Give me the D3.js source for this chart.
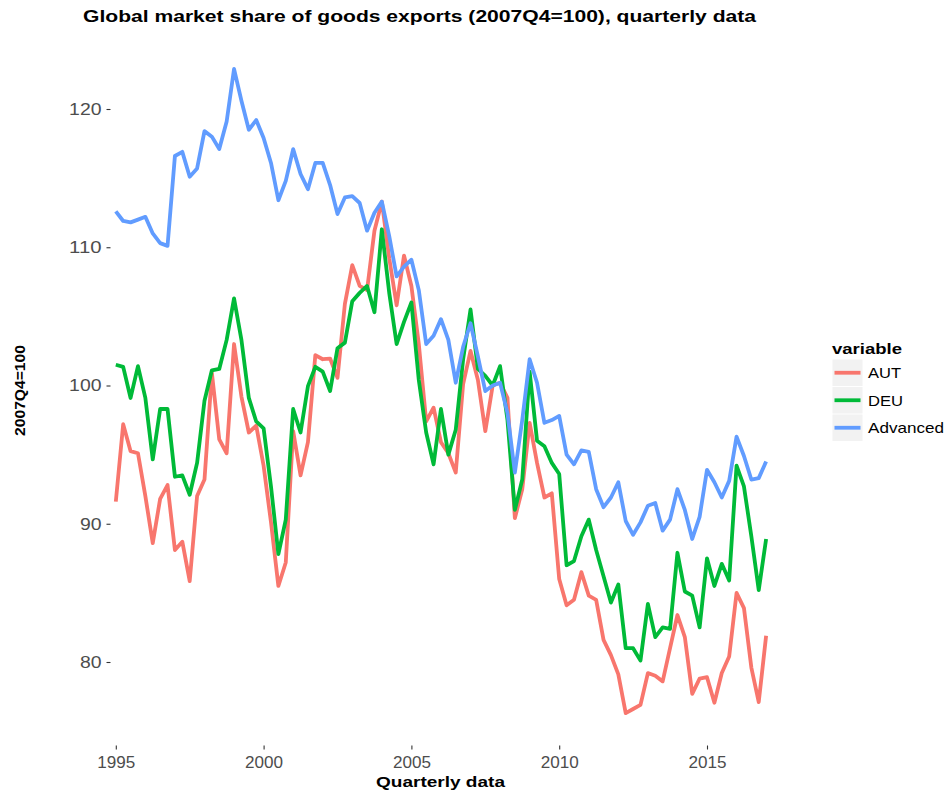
<!DOCTYPE html>
<html>
<head>
<meta charset="utf-8">
<script src="https://cdnjs.cloudflare.com/ajax/libs/d3/7.8.5/d3.min.js"></script>
<style>
  html, body { margin: 0; padding: 0; background: #fff; }
  svg { display: block; font-family: "Liberation Sans", Arial, sans-serif; }
</style>
</head>
<body>
<svg id="chart" width="944" height="794"></svg>
<script>
// ---------- data ----------
const startYear = 1995;
const seriesNames = ["AUT", "DEU", "Advanced"];
const seriesColors = ["#F8766D", "#00BA38", "#619CFF"];

const AUT = [91.6, 97.2, 95.25, 95.1, 92.0, 88.6, 91.8, 92.8, 88.1, 88.7, 85.85, 92.0, 93.2, 100.9, 96.1, 95.1,
  103.0, 99.2, 96.6, 97.1, 94.2, 90.1, 85.5, 87.2, 96.7, 93.5, 95.9, 102.2, 101.9, 101.95, 100.55, 105.9,
  108.7, 107.2, 106.9, 111.2, 113.3, 109.2, 105.8, 109.4, 107.2, 103.0, 97.4, 98.4, 95.9, 95.1, 93.7, 100.1,
  102.5, 100.4, 96.7, 100.0, 100.2, 99.1, 90.4, 92.5, 97.3, 94.4, 91.9, 92.2, 86.0, 84.1, 84.5, 86.5,
  84.8, 84.5, 81.6, 80.5, 79.1, 76.3, 76.6, 76.9, 79.2, 79.0, 78.6, 81.0, 83.4, 81.8, 77.7, 78.8,
  78.9, 77.05, 79.2, 80.4, 85.0, 83.9, 79.6, 77.1, 81.9];

const DEU = [101.5, 101.35, 99.1, 101.4, 99.1, 94.65, 98.3, 98.3, 93.4, 93.5, 92.1, 94.4, 98.9, 101.1, 101.2, 103.3,
  106.3, 103.3, 99.1, 97.4, 96.9, 92.7, 87.8, 90.3, 98.3, 96.6, 99.95, 101.35, 101.0, 99.6, 102.7, 103.1,
  106.1, 106.7, 107.2, 105.3, 111.3, 106.7, 103.0, 104.6, 106.0, 100.4, 96.6, 94.3, 98.3, 95.0, 96.8, 101.9,
  105.5, 101.2, 100.7, 100.0, 101.4, 97.5, 91.0, 93.2, 101.0, 96.0, 95.6, 94.4, 93.6, 87.0, 87.3, 89.1,
  90.3, 88.1, 86.2, 84.3, 85.6, 81.0, 81.0, 80.1, 84.2, 81.8, 82.5, 82.4, 87.9, 85.1, 84.8, 82.5,
  87.5, 85.5, 87.1, 85.9, 94.2, 92.7, 89.1, 85.2, 88.9];

const Advanced = [112.6, 111.9, 111.8, 112.0, 112.2, 111.0, 110.3, 110.1, 116.6, 116.9, 115.1, 115.7, 118.4, 118.0, 117.1, 119.1,
  122.9, 120.6, 118.5, 119.2, 117.9, 116.1, 113.4, 114.8, 117.1, 115.3, 114.2, 116.1, 116.1, 114.5, 112.4, 113.6,
  113.7, 113.2, 111.2, 112.5, 113.3, 110.8, 107.9, 108.6, 109.1, 106.9, 103.0, 103.6, 104.8, 103.3, 100.2, 102.8,
  104.5, 102.1, 99.6, 100.0, 100.2, 98.0, 93.7, 97.5, 101.9, 100.2, 97.3, 97.5, 97.8, 95.0, 94.3, 95.3,
  95.2, 92.5, 91.2, 91.9, 93.0, 90.2, 89.2, 90.1, 91.3, 91.5, 89.5, 90.3, 92.5, 91.0, 88.9, 90.5,
  93.9, 93.0, 91.9, 93.1, 96.3, 94.9, 93.2, 93.3, 94.5];

const xTickValues = [1995, 2000, 2005, 2010, 2015];
const yTickValues = [80, 90, 100, 110, 120];

const titleText = "Global market share of goods exports (2007Q4=100), quarterly data";
const xTitle = "Quarterly data";
const yTitle = "2007Q4=100";
const legendTitle = "variable";

// quarter positions (1995Q1 -> 1995.0)
const quarters = AUT.map((_, i) => startYear + i / 4);
const allSeries = [AUT, DEU, Advanced];

// ---------- layout ----------
const svg = d3.select("#chart");
const panel = { left: 110.5, right: 800, top: 36.7, bottom: 745.5 };

const x = d3.scaleLinear().domain([1995, 2015]).range([115.8, 707.0]);
const y = d3.scaleLinear().domain([80, 120]).range([662, 109]);

// ---------- lines ----------
const line = d3.line().x((d, i) => x(quarters[i])).y(d => y(d));
const g = svg.append("g");
allSeries.forEach((s, k) => {
  g.append("path")
    .datum(s)
    .attr("d", line)
    .attr("fill", "none")
    .attr("stroke", seriesColors[k])
    .attr("stroke-width", 3.8)
    .attr("stroke-linejoin", "round")
    .attr("stroke-linecap", "butt");
});

// ---------- axes ----------
const xAxis = svg.append("g")
  .attr("transform", `translate(0,${panel.bottom})`)
  .call(d3.axisBottom(x).tickValues(xTickValues).tickFormat(d3.format("d")).tickSize(4).tickPadding(6));
xAxis.select(".domain").remove();
xAxis.selectAll(".tick line").attr("stroke", "#333333").attr("stroke-width", 1.1);
xAxis.selectAll(".tick text")
  .attr("fill", "#4D4D4D")
  .style("font-size", "17px")
  .attr("textLength", 38).attr("lengthAdjust", "spacingAndGlyphs");

const yAxis = svg.append("g")
  .attr("transform", `translate(${panel.left},0)`)
  .call(d3.axisLeft(y).tickValues(yTickValues).tickFormat(d3.format("d")).tickSize(4).tickPadding(5));
yAxis.select(".domain").remove();
yAxis.selectAll(".tick line").attr("stroke", "#333333").attr("stroke-width", 1.1);
yAxis.selectAll(".tick text")
  .attr("fill", "#4D4D4D")
  .style("font-size", "17px")
  .each(function(d) {
    d3.select(this).attr("textLength", String(d).length * 10.8).attr("lengthAdjust", "spacingAndGlyphs");
  });

// ---------- titles ----------
svg.append("text")
  .attr("x", 83).attr("y", 21.5)
  .style("font-size", "16px").style("font-weight", "bold")
  .attr("fill", "#000")
  .attr("textLength", 673).attr("lengthAdjust", "spacingAndGlyphs")
  .text(titleText);

svg.append("text")
  .attr("x", 440.5).attr("y", 787)
  .attr("text-anchor", "middle")
  .style("font-size", "15.5px").style("font-weight", "bold")
  .attr("textLength", 129).attr("lengthAdjust", "spacingAndGlyphs")
  .text(xTitle);

svg.append("text")
  .attr("transform", "translate(25,390.5) rotate(-90)")
  .attr("text-anchor", "middle")
  .style("font-size", "14.5px").style("font-weight", "bold")
  .attr("textLength", 91).attr("lengthAdjust", "spacingAndGlyphs")
  .text(yTitle);

// ---------- legend ----------
const leg = svg.append("g");
leg.append("text")
  .attr("x", 832).attr("y", 353.5)
  .style("font-size", "15.5px").style("font-weight", "bold")
  .attr("textLength", 70).attr("lengthAdjust", "spacingAndGlyphs")
  .text(legendTitle);

const keyW = 30, keyH = 26.5, keyX = 832.5, keyY0 = 359.5, keyStep = 27.5;
const legendTextW = [33, 35, 76];
seriesNames.forEach((name, k) => {
  const ky = keyY0 + k * keyStep;
  leg.append("rect")
    .attr("x", keyX).attr("y", ky)
    .attr("width", keyW).attr("height", keyH)
    .attr("fill", "#F2F2F2");
  leg.append("line")
    .attr("x1", keyX + 2).attr("x2", keyX + keyW - 2)
    .attr("y1", ky + keyH / 2).attr("y2", ky + keyH / 2)
    .attr("stroke", seriesColors[k]).attr("stroke-width", 3.8);
  leg.append("text")
    .attr("x", 868).attr("y", ky + keyH / 2 + 5.4)
    .style("font-size", "15px")
    .attr("fill", "#000")
    .attr("textLength", legendTextW[k]).attr("lengthAdjust", "spacingAndGlyphs")
    .text(name);
});
</script>
</body>
</html>
